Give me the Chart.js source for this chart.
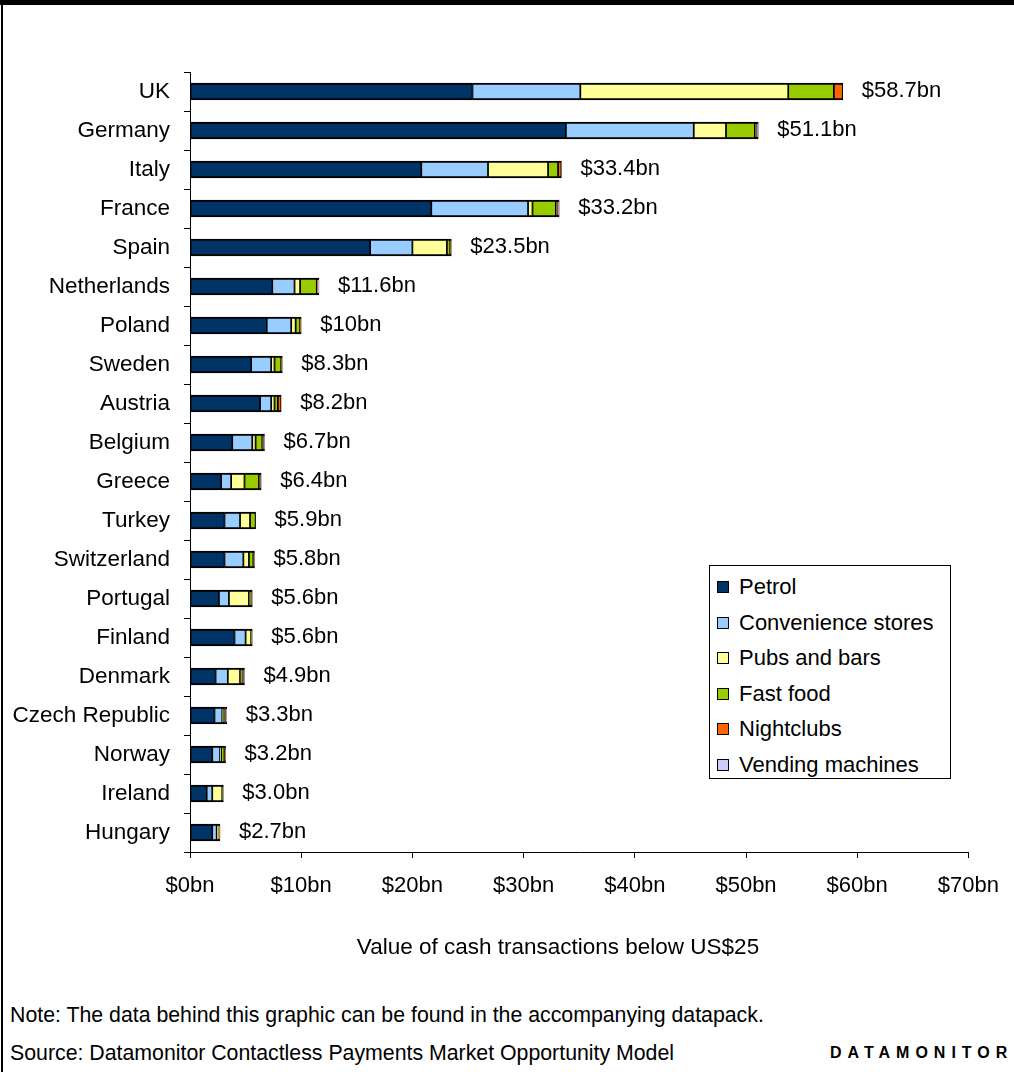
<!DOCTYPE html>
<html>
<head>
<meta charset="utf-8">
<title>Cash transactions below US$25</title>
<script src="https://cdn.jsdelivr.net/npm/chart.js@4.4.1/dist/chart.umd.min.js"></script>
<style>
  html, body { margin: 0; padding: 0; background: #fff; }
  body { width: 1014px; height: 1072px; position: relative; overflow: hidden;
         font-family: "Liberation Sans", Arial, sans-serif; color: #000; }
  .topbar { position: absolute; left: 0; top: 0; width: 1014px; height: 5px; background: #000; }
  .leftline { position: absolute; left: 1px; top: 0; width: 2px; height: 1072px; background: #000; }
  #chart { position: absolute; left: 0; top: 0; }
  .legend { position: absolute; left: 709px; top: 565px; width: 240px; height: 212px;
            border: 1px solid #000; background: #fff; box-sizing: content-box; }
  .legend .row { position: absolute; left: 0; height: 26px; line-height: 26px; font-size: 22px; white-space: nowrap; }
  .legend .sw { position: absolute; left: 7px; top: 7px; width: 10px; height: 10px; border: 1px solid #000; }
  .legend .tx { position: absolute; left: 29px; top: 0; }
  .axis-title { position: absolute; left: 258px; top: 933px; width: 600px; text-align: center;
                font-size: 22.5px; line-height: 28px; white-space: nowrap; }
  .note { position: absolute; left: 10px; font-size: 21.3px; line-height: 24px; white-space: nowrap; }
  .brand { position: absolute; left: 830px; top: 1044px; font-size: 16px; font-weight: bold;
           letter-spacing: 6px; line-height: 18px; white-space: nowrap; }
</style>
</head>
<body>
<div class="topbar"></div>
<div class="leftline"></div>
<canvas id="chart" width="1014" height="1000"></canvas>
<div class="legend" id="legend"></div>
<div class="axis-title">Value of cash transactions below US$25</div>
<div class="note" style="top:1003px">Note: The data behind this graphic can be found in the accompanying datapack.</div>
<div class="note" style="top:1041px">Source: Datamonitor Contactless Payments Market Opportunity Model</div>
<div class="brand">DATAMONITOR</div>

<script>
// Value of cash transactions below US$25, $bn, by merchant sector
const countries = ['UK', 'Germany', 'Italy', 'France', 'Spain', 'Netherlands', 'Poland', 'Sweden',
  'Austria', 'Belgium', 'Greece', 'Turkey', 'Switzerland', 'Portugal', 'Finland', 'Denmark',
  'Czech Republic', 'Norway', 'Ireland', 'Hungary'];

const petrol       = [25.4, 33.8, 20.8, 21.7, 16.2, 7.4, 6.9, 5.5, 6.3, 3.8, 2.8, 3.1, 3.1, 2.6, 4.0, 2.3, 2.2, 2.0, 1.5, 2.0];
const convenience  = [9.7, 11.5, 6.0, 8.7, 3.8, 2.0, 2.2, 1.8, 1.0, 1.8, 0.9, 1.4, 1.7, 0.9, 1.0, 1.1, 0.7, 0.7, 0.5, 0.4];
const pubsBars     = [18.7, 2.9, 5.4, 0.4, 3.1, 0.5, 0.4, 0.3, 0.3, 0.3, 1.2, 0.9, 0.5, 1.8, 0.5, 1.1, 0.1, 0.1, 0.9, 0.1];
const fastFood     = [4.1, 2.6, 0.9, 2.1, 0.3, 1.5, 0.4, 0.6, 0.3, 0.6, 1.3, 0.5, 0.4, 0.2, 0.1, 0.2, 0.1, 0.3, 0.1, 0.1];
const nightclubs   = [0.8, 0.2, 0.3, 0.2, 0.1, 0.1, 0.1, 0.1, 0.3, 0.1, 0.2, 0.0, 0.1, 0.1, 0.0, 0.1, 0.1, 0.1, 0.0, 0.1];
const vending      = [0.0, 0.1, 0.0, 0.1, 0.0, 0.1, 0.0, 0.0, 0.0, 0.1, 0.0, 0.0, 0.0, 0.0, 0.0, 0.1, 0.1, 0.0, 0.0, 0.0];

const xTicks = [0, 10, 20, 30, 40, 50, 60, 70];

const FONT = '"Liberation Sans", Arial, sans-serif';

const series = [
  { label: 'Petrol', data: petrol, color: '#003366' },
  { label: 'Convenience stores', data: convenience, color: '#99CCFF' },
  { label: 'Pubs and bars', data: pubsBars, color: '#FFFF99' },
  { label: 'Fast food', data: fastFood, color: '#99CC00' },
  { label: 'Nightclubs', data: nightclubs, color: '#FF6600' },
  { label: 'Vending machines', data: vending, color: '#CCCCFF' }
];

// bar totals, used for the value labels at the end of each bar
const totals = countries.map((_, i) =>
  Math.round(series.reduce((s, d) => s + d.data[i], 0) * 10) / 10);

const fmtTotal = v => '$' + (v >= 10 && Number.isInteger(v) ? v : v.toFixed(1)) + 'bn';

const totalLabels = {
  id: 'totalLabels',
  afterDatasetsDraw(chart) {
    const { ctx, scales: { x, y } } = chart;
    ctx.save();
    ctx.font = '22px ' + FONT;
    ctx.fillStyle = '#000';
    ctx.textAlign = 'left';
    ctx.textBaseline = 'middle';
    totals.forEach((t, i) => {
      ctx.fillText(fmtTotal(t), x.getPixelForValue(t) + 19, y.getPixelForValue(i) - 1);
    });
    ctx.restore();
  }
};

const chart = new Chart(document.getElementById('chart'), {
  type: 'bar',
  data: {
    labels: countries,
    datasets: series.map(s => ({
      label: s.label,
      data: s.data,
      backgroundColor: s.color,
      borderColor: '#000',
      borderWidth: { top: 2, bottom: 2, left: 1.2, right: 1.2 },
      borderSkipped: false,
      barThickness: 17
    }))
  },
  options: {
    indexAxis: 'y',
    responsive: false,
    devicePixelRatio: 1,
    animation: false,
    layout: { padding: { top: 72, right: 42, bottom: 0, left: 0 } },
    plugins: {
      legend: { display: false },
      tooltip: { enabled: false }
    },
    scales: {
      x: {
        stacked: true,
        min: 0,
        max: 70,
        afterBuildTicks: scale => { scale.ticks = xTicks.map(v => ({ value: v })); },
        afterFit: scale => { scale.height = 148; },
        border: { display: true, color: '#000', width: 1 },
        grid: { drawOnChartArea: false, drawTicks: true, tickLength: 6, color: '#000' },
        ticks: {
          color: '#000',
          padding: 15,
          maxRotation: 0,
          font: { family: FONT, size: 22 },
          callback: v => '$' + v + 'bn'
        }
      },
      y: {
        stacked: true,
        afterFit: scale => { scale.width = 190; },
        border: { display: true, color: '#000', width: 1 },
        grid: { drawOnChartArea: false, drawTicks: true, tickLength: 6, color: '#000', offset: true },
        ticks: {
          color: '#000',
          padding: 14,
          autoSkip: false,
          font: { family: FONT, size: 22.5 }
        }
      }
    }
  },
  plugins: [totalLabels]
});

// legend box built from the datasets
const legendEl = document.getElementById('legend');
chart.data.datasets.forEach((ds, i) => {
  const row = document.createElement('div');
  row.className = 'row';
  row.style.top = (8 + i * 35.5) + 'px';
  row.innerHTML = '<span class="sw" style="background:' + ds.backgroundColor + '"></span>' +
                  '<span class="tx">' + ds.label + '</span>';
  legendEl.appendChild(row);
});
</script>
</body>
</html>
